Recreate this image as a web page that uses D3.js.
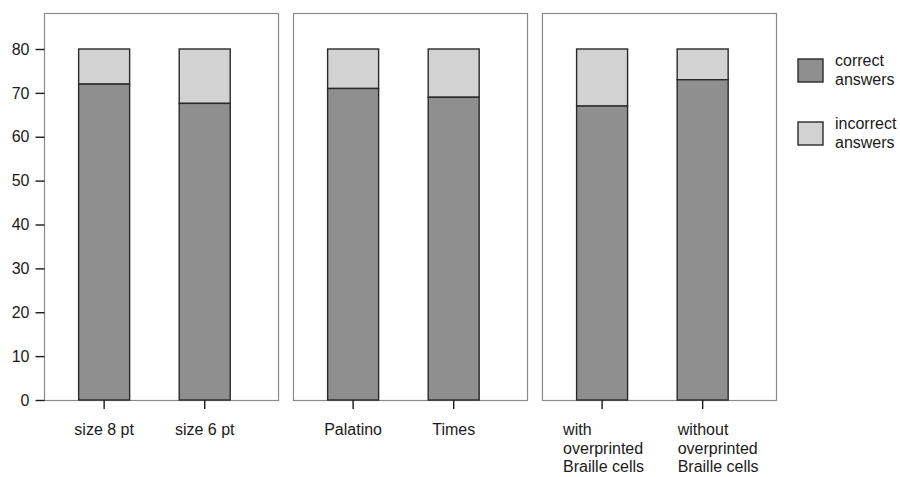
<!DOCTYPE html>
<html><head><meta charset="utf-8">
<script src="https://cdn.jsdelivr.net/npm/d3@7"></script>
<style>
body{margin:0;background:#fff;}
text{font-family:"Liberation Sans",Arial,sans-serif;font-size:16px;fill:#1a1a1a;}
</style></head>
<body><svg id="c" width="900" height="477"></svg>
<script>
const panels = ["size", "font", "braille"];
const categories = [
  ["size 8 pt", "size 6 pt"],
  ["Palatino", "Times"],
  ["with|overprinted|Braille cells", "without|overprinted|Braille cells"]
];
const correct = [[72, 67.6], [71, 69], [67, 73]];
const incorrect = [[8, 12.4], [9, 11], [13, 7]];
const yTicks = [0, 10, 20, 30, 40, 50, 60, 70, 80];
const legendLabels = ["correct|answers", "incorrect|answers"];
const colors = ["#8f8f8f", "#d2d2d2"];

const svg = d3.select("#c");
const y = d3.scaleLinear().domain([0, 80]).range([400, 49]);
const panelX = d3.scaleBand().domain(panels).range([44, 776]).paddingInner(0.06).paddingOuter(0);
const pw = panelX.bandwidth();
const barX = d3.scaleBand().domain([0, 1]).range([0, pw]).paddingInner(0.493).paddingOuter(0.41).align(0.42);

panels.forEach((p, pi) => {
  const g = svg.append("g").attr("transform", `translate(${panelX(p)},0)`);
  g.append("rect").attr("x", 0.5).attr("y", 13.5).attr("width", pw).attr("height", y(0) - 13)
    .attr("fill", "none").attr("stroke", "#8a8a8a").attr("stroke-width", 1.2);
  categories[pi].forEach((cat, i) => {
    const x0 = barX(i), bw = barX.bandwidth();
    const c = correct[pi][i], ic = incorrect[pi][i];
    g.append("rect").attr("x", x0).attr("y", y(c + ic)).attr("width", bw).attr("height", y(c) - y(c + ic))
      .attr("fill", colors[1]).attr("stroke", "#2a2a2a").attr("stroke-width", 1.4);
    g.append("rect").attr("x", x0).attr("y", y(c)).attr("width", bw).attr("height", y(0) - y(c))
      .attr("fill", colors[0]).attr("stroke", "#2a2a2a").attr("stroke-width", 1.4);
    const cx = x0 + bw / 2;
    g.append("line").attr("x1", cx).attr("x2", cx).attr("y1", y(0)).attr("y2", y(0) + 9)
      .attr("stroke", "#1a1a1a").attr("stroke-width", 1.4);
    const lines = cat.split("|");
    const t = g.append("text");
    if (lines.length === 1) {
      t.attr("text-anchor", "middle").attr("x", cx).attr("y", 435).text(cat);
    } else {
      const lx = i === 0 ? cx - 39 : cx - 25;
      lines.forEach((l, k) => {
        t.append("tspan").attr("x", lx).attr("y", 435 + k * 18.5).text(l);
      });
    }
  });
});

const yAxis = d3.axisLeft(y).tickValues(yTicks).tickSize(9).tickPadding(6);
const ya = svg.append("g").attr("transform", "translate(44.5,0)").call(yAxis);
ya.select(".domain").remove();
ya.selectAll(".tick line").attr("stroke", "#1a1a1a").attr("stroke-width", 1.4);
ya.selectAll(".tick text").attr("font-size", 16).attr("font-family", "Liberation Sans, Arial, sans-serif").attr("fill", "#1a1a1a");

legendLabels.forEach((lab, i) => {
  const ly = 59 + i * 63;
  svg.append("rect").attr("x", 798).attr("y", ly).attr("width", 25).attr("height", 23)
    .attr("fill", colors[i]).attr("stroke", "#2a2a2a").attr("stroke-width", 1.4);
  const t = svg.append("text");
  lab.split("|").forEach((l, k) => {
    t.append("tspan").attr("x", 835).attr("y", ly + 7 + k * 19).text(l);
  });
});
</script></body></html>
